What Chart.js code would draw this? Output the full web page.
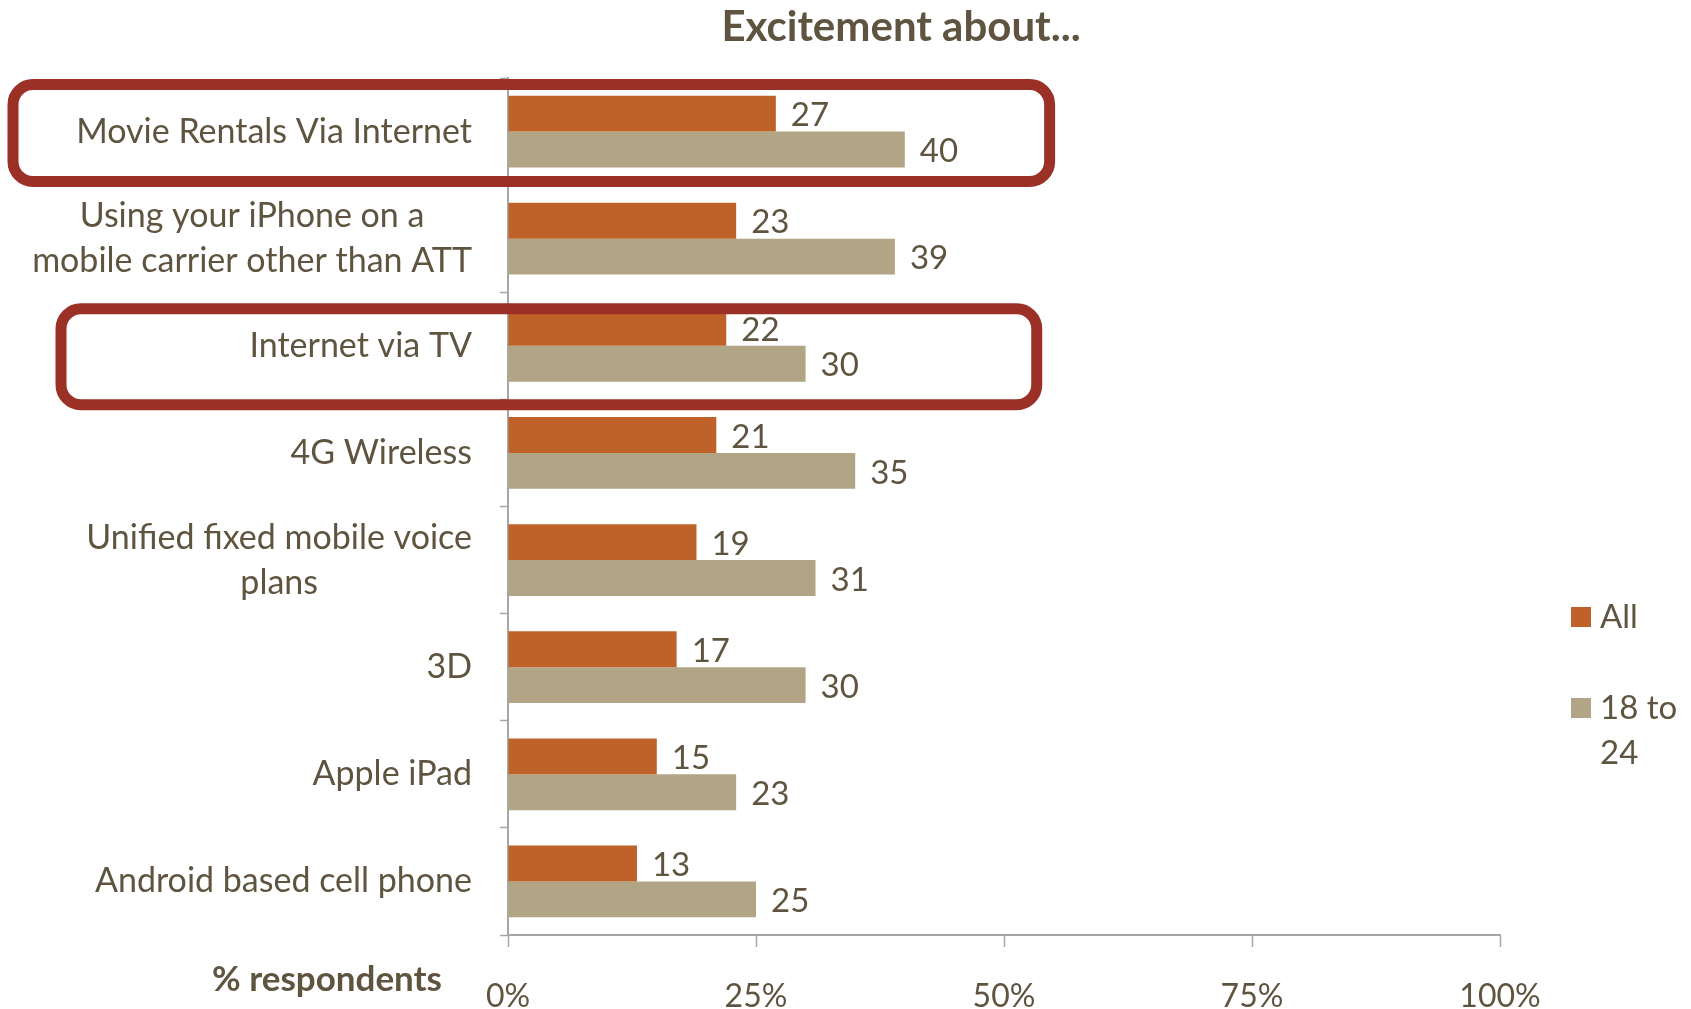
<!DOCTYPE html>
<html>
<head>
<meta charset="utf-8">
<title>Excitement about...</title>
<script src="https://cdn.jsdelivr.net/npm/chart.js@4.4.1/dist/chart.umd.min.js"></script>
<style>
  html, body { margin: 0; padding: 0; background: #ffffff; }
  #wrap { width: 1691px; height: 1009px; position: relative; }
</style>
</head>
<body>
<div id="wrap"><canvas id="excitementChart"></canvas></div>
<script>
// Categories (top to bottom) and the two respondent groups
const categories = [
    'Movie Rentals Via Internet',
    ['Using your iPhone on a', 'mobile carrier other than ATT'],
    'Internet via TV',
    '4G Wireless',
    ['Unified fixed mobile voice', 'plans'],
    '3D',
    'Apple iPad',
    'Android based cell phone'
];
const seriesNames = ['All', '18 to 24'];
const allValues = [27, 23, 22, 21, 19, 17, 15, 13];
const youngValues = [40, 39, 30, 35, 31, 30, 23, 25];
const xTickValues = [0, 25, 50, 75, 100];

// Categories outlined with a red box
const highlighted = [0, 2];

const TEXT = '#5F5440';
const AXIS = '#A6A6A6';
const FONT = 'Lato, "Open Sans", sans-serif';
const colors = ['#BE6229', '#B1A585'];

// Category labels: block right-aligned to the axis, lines centred inside it
const categoryLabels = {
    id: 'categoryLabels',
    afterDraw(chart) {
        const { ctx, scales: { y }, chartArea } = chart;
        ctx.save();
        ctx.font = '34px ' + FONT;
        ctx.fillStyle = TEXT;
        ctx.textAlign = 'center';
        ctx.textBaseline = 'middle';
        const right = chartArea.left - 36;
        const lineH = 45;
        chart.data.labels.forEach((label, i) => {
            const lines = Array.isArray(label) ? label : [label];
            const w = Math.max(...lines.map(l => ctx.measureText(l).width));
            const cy = y.getPixelForValue(i);
            const cx = right - w / 2;
            lines.forEach((line, k) => {
                ctx.fillText(line, cx, cy + (k - (lines.length - 1) / 2) * lineH);
            });
        });
        ctx.restore();
    }
};

// Value labels next to each bar end
const valueLabels = {
    id: 'valueLabels',
    afterDatasetsDraw(chart) {
        const { ctx } = chart;
        ctx.save();
        ctx.font = '33px ' + FONT;
        ctx.fillStyle = TEXT;
        ctx.textAlign = 'left';
        ctx.textBaseline = 'middle';
        chart.data.datasets.forEach((ds, di) => {
            chart.getDatasetMeta(di).data.forEach((bar, i) => {
                ctx.fillText(String(ds.data[i]), bar.x + 15, bar.y + 2);
            });
        });
        ctx.restore();
    }
};

// Rounded red outline around highlighted categories
const highlightBoxes = {
    id: 'highlightBoxes',
    afterDraw(chart, args, opts) {
        const { ctx, scales: { x, y } } = chart;
        ctx.save();
        ctx.strokeStyle = opts.color;
        ctx.lineWidth = opts.lineWidth;
        opts.boxes.forEach(b => {
            const cy = y.getPixelForValue(b.index) + b.shift;
            const top = cy - b.half;
            const left = b.left;
            const right = x.getPixelForValue(b.rightValue);
            ctx.beginPath();
            ctx.roundRect(left, top, right - left, b.half * 2, opts.radius);
            ctx.stroke();
        });
        ctx.restore();
    }
};

// Title, x-axis caption and the legend on the right
const decorations = {
    id: 'decorations',
    afterDraw(chart) {
        const { ctx, chartArea } = chart;
        ctx.save();
        ctx.fillStyle = TEXT;
        ctx.textBaseline = 'middle';

        ctx.font = 'bold 42px ' + FONT;
        ctx.textAlign = 'center';
        ctx.fillText('Excitement about...', chartArea.left + 393, 27);

        ctx.font = 'bold 35px ' + FONT;
        ctx.textAlign = 'right';
        ctx.fillText('% respondents', chartArea.left - 66, 980);

        // legend
        ctx.font = '33px ' + FONT;
        ctx.textAlign = 'left';
        const boxX = chartArea.right + 71;
        const textX = boxX + 29;
        const maxW = chart.width - textX - 2;
        let yy = 617;
        chart.data.datasets.forEach((ds, di) => {
            const words = ds.label.split(' ');
            const lines = [];
            let cur = '';
            words.forEach(wd => {
                const t = cur ? cur + ' ' + wd : wd;
                if (cur && ctx.measureText(t).width > maxW) {
                    lines.push(cur);
                    cur = wd;
                } else {
                    cur = t;
                }
            });
            lines.push(cur);
            ctx.fillStyle = ds.backgroundColor;
            ctx.fillRect(boxX, yy - 10, 20, 20);
            ctx.fillStyle = TEXT;
            lines.forEach((line, k) => ctx.fillText(line, textX, yy + k * 45));
            yy += 91;
        });
        ctx.restore();
    }
};

new Chart(document.getElementById('excitementChart'), {
    type: 'bar',
    data: {
        labels: categories,
        datasets: [
            { label: seriesNames[0], data: allValues, backgroundColor: colors[0] },
            { label: seriesNames[1], data: youngValues, backgroundColor: colors[1] }
        ]
    },
    options: {
        indexAxis: 'y',
        responsive: true,
        maintainAspectRatio: false,
        animation: false,
        datasets: {
            bar: { categoryPercentage: 0.67, barPercentage: 1.0 }
        },
        layout: {
            padding: { left: 500, right: 191, top: 78, bottom: -38 }
        },
        scales: {
            x: {
                min: 0,
                max: 100,
                afterBuildTicks: axis => {
                    axis.ticks = xTickValues.map(v => ({ value: v }));
                },
                grid: {
                    drawOnChartArea: false,
                    drawTicks: true,
                    tickLength: 12,
                    tickWidth: 1.5,
                    color: AXIS
                },
                border: { display: true, color: AXIS, width: 2 },
                ticks: {
                    padding: 34,
                    color: TEXT,
                    font: { family: FONT, size: 32, lineHeight: 1 },
                    maxRotation: 0,
                    callback: v => v + '%'
                }
            },
            y: {
                grid: {
                    drawOnChartArea: false,
                    drawTicks: true,
                    tickLength: 8,
                    tickWidth: 1.5,
                    color: AXIS
                },
                border: { display: true, color: AXIS, width: 2 },
                ticks: { display: false }
            }
        },
        plugins: {
            legend: { display: false },
            title: { display: false },
            tooltip: { enabled: false },
            highlightBoxes: {
                color: '#9B3026',
                lineWidth: 11,
                radius: 20,
                boxes: [
                    { index: highlighted[0], left: 13, rightValue: 54.6, half: 48.5, shift: 1.5 },
                    { index: highlighted[1], left: 61, rightValue: 53.3, half: 48, shift: 11 }
                ]
            }
        }
    },
    plugins: [categoryLabels, valueLabels, highlightBoxes, decorations]
});
</script>
</body>
</html>
